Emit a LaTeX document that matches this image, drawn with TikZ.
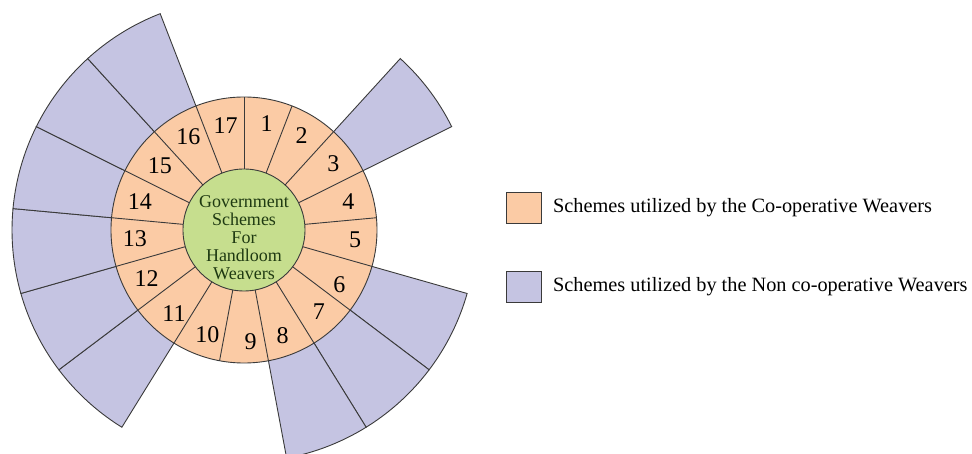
\documentclass[tikz,border=0pt]{standalone}
\usepackage{fontspec}
\setmainfont{Liberation Serif}
\usetikzlibrary{positioning}
\definecolor{coopfill}{HTML}{FBCBA5}
\definecolor{noncofill}{HTML}{C5C4E2}
\definecolor{hubfill}{HTML}{C6DE8E}
\definecolor{hubink}{HTML}{1F3A12}
\definecolor{edgeink}{HTML}{3A3A3A}

\begin{document}
\begin{tikzpicture}[x=1pt, y=1pt,
    wedge/.style={draw=edgeink, line width=0.9pt, fill=noncofill},
    ring/.style={draw=edgeink, line width=0.9pt, fill=coopfill},
    spoke/.style={draw=edgeink, line width=0.9pt},
    hub/.style={circle, draw=edgeink, line width=0.9pt, fill=hubfill, minimum size=122pt, inner sep=0pt},
    hublabel/.style={align=center, text=hubink, inner sep=0pt, font=\fontsize{18}{18}\selectfont},
    num/.style={inner sep=0pt, font=\fontsize{24}{24}\selectfont},
    keybox/.style={draw=edgeink, line width=0.9pt, minimum width=35pt, minimum height=31pt, inner sep=0pt},
    keytext/.style={inner sep=0pt, font=\fontsize{20.3}{22}\selectfont}]
    \clip (-244,-224) rectangle (728,230);
    % outer wedges: non co-operative weavers
    \foreach \i in {3,6,7,8,11,12,13,14,15,16} {
        \pgfmathsetmacro{\a}{90-(\i-1)*360/17}
        \pgfmathsetmacro{\b}{90-\i*360/17}
        \draw[wedge] (\a:100pt) -- (\a:232pt) arc[start angle=\a, end angle=\b, radius=232pt] -- (\b:100pt) -- cycle;
    }
    % inner ring: co-operative weavers
    \draw[ring] (0,0) circle[radius=133pt];
    \foreach \k in {0,...,16}
        \draw[spoke] ({90-\k*360/17}:61pt) -- ({90-\k*360/17}:133pt);
    \node[hub] (hub) at (0,0) {};
    \node[hublabel] (hubtext) at (0,-8) {Government\\Schemes\\For\\Handloom\\Weavers};
    % scheme numbers
    \foreach \n/\x/\y in {1/22.7/106.7, 2/57.7/94, 3/89.3/66, 4/104.3/28.3, 5/111/-9.3,
                          6/95.3/-55, 7/75/-81.7, 8/38.7/-106, 9/6.7/-111.7, 10/-36.7/-105,
                          11/-70/-84, 12/-97.3/-48.3, 13/-109/-9, 14/-104/28.3, 15/-84/64.3,
                          16/-55.7/93.3, 17/-18.3/104}
        \node[num] (s\n) at (\x,\y) {\n};
    % legend
    \node[keybox, fill=coopfill] (coopkey) at (280,22.3) {};
    \node[keytext, right=11pt of coopkey] (cooplabel) {Schemes utilized by the Co-operative Weavers};
    \node[keybox, fill=noncofill] (noncokey) at (280,-56.7) {};
    \node[keytext, right=11pt of noncokey] (noncolabel) {Schemes utilized by the Non co-operative Weavers};
\end{tikzpicture}
\end{document}
